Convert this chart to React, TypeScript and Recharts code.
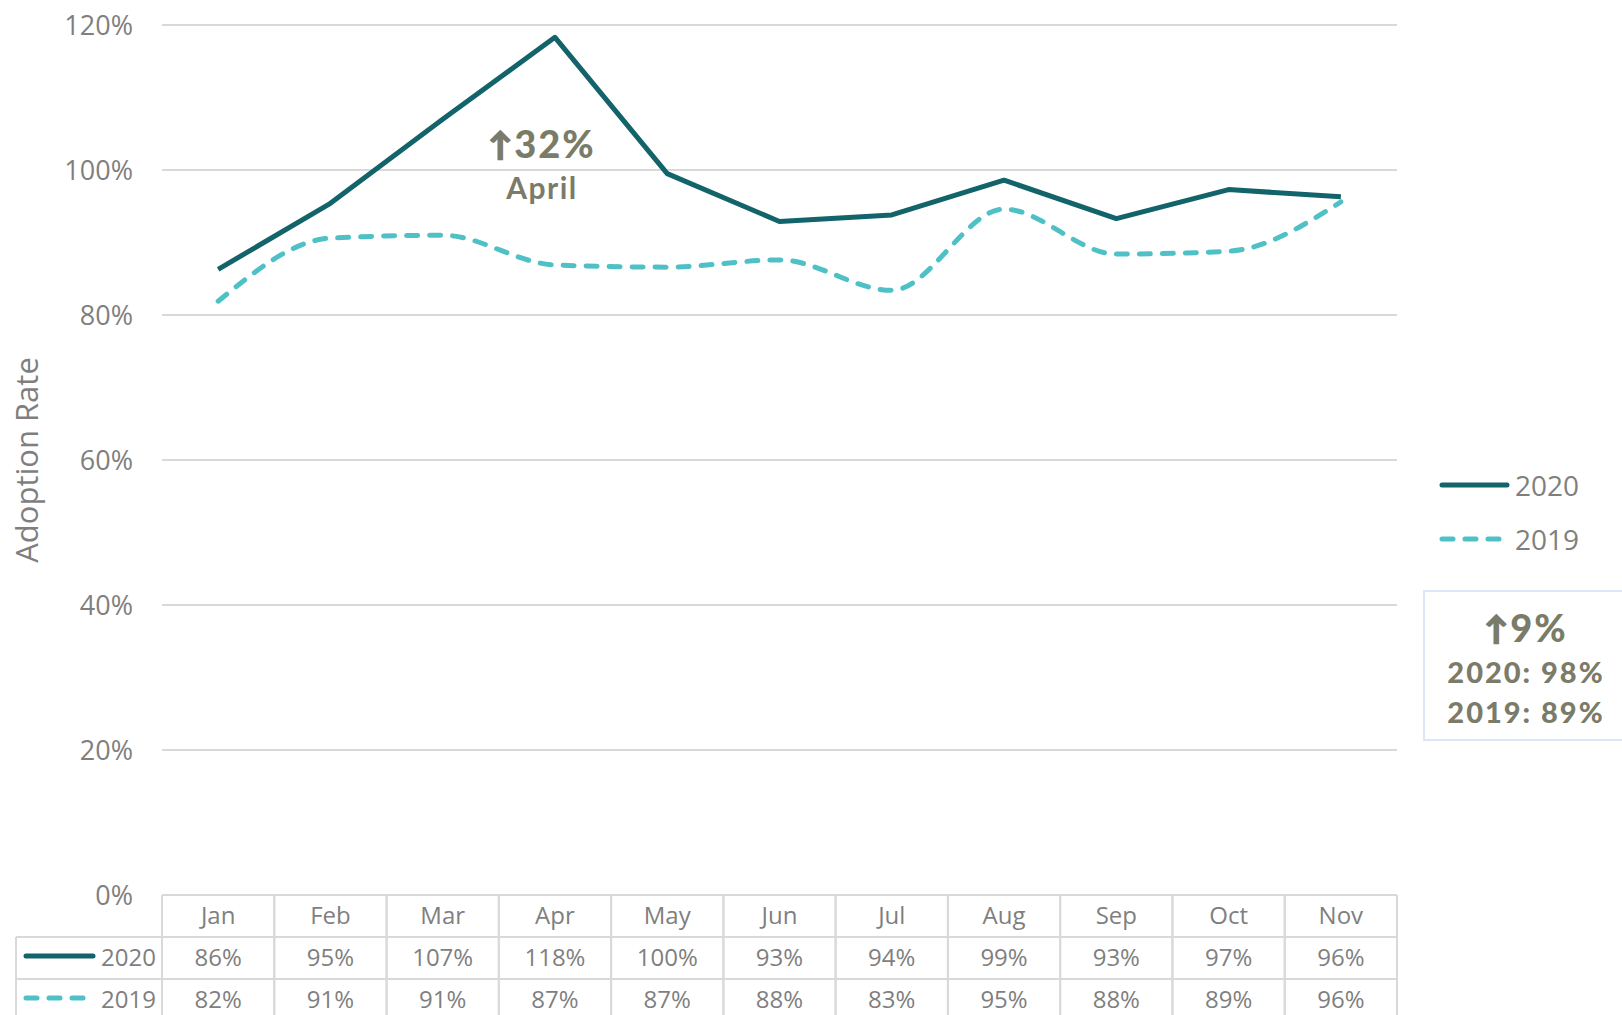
import React from 'react';
import { LineChart, Line, XAxis, YAxis, CartesianGrid, Customized } from 'recharts';

const months = ['Jan', 'Feb', 'Mar', 'Apr', 'May', 'Jun', 'Jul', 'Aug', 'Sep', 'Oct', 'Nov'];
const rate2020 = [86.3, 95.4, 107.0, 118.3, 99.5, 92.9, 93.8, 98.6, 93.3, 97.3, 96.3];
const rate2019 = [81.9, 90.6, 91.0, 86.9, 86.6, 87.6, 83.4, 94.6, 88.4, 88.8, 95.6];
const yTicks = [0, 20, 40, 60, 80, 100, 120];
const seriesNames = ['2020', '2019'];
const peakNote = ['32%', 'April'];
const upArrow = '\u2191';
const summaryNote = ['9%', '2020: 98%', '2019: 89%'];
const yTitle = 'Adoption Rate';

const data = months.map((m, i) => ({ month: m, y2020: rate2020[i], y2019: rate2019[i] }));

const W = 1622;
const H = 1015;
const M = { top: 25, right: 225, left: 0, bottom: 0 };
const Y_AXIS_W = 162;
const X_AXIS_H = 120;
const PLOT_W = W - M.right - Y_AXIS_W;

const C2020 = '#12636a';
const C2019 = '#4fc1c6';
const GRID = '#d9d9d9';
const TXT = '#7f7f7f';
const NOTE = '#7a7b69';
const FONT = '"Open Sans", "Noto Sans", sans-serif';
const NOTE_FONT = 'Lato, "Open Sans", sans-serif';
const ROW_H = 42;
const DASH = '11 12';

const TableTick = (props: any) => {
  const { x, y, payload, index } = props;
  const bw = (props.width && props.width > 500 ? props.width : PLOT_W) / months.length;
  const left = x - bw / 2;
  const right = x + bw / 2;
  const bottom = y + ROW_H * 3 + 20;
  const vals = [rate2020[index], rate2019[index]];
  const lineLeft = 16;
  return (
    <g>
      <line x1={left} x2={left} y1={y} y2={bottom} stroke={GRID} strokeWidth={2} />
      <line x1={right} x2={right} y1={y} y2={bottom} stroke={GRID} strokeWidth={2} />
      <line x1={left} x2={right} y1={y + ROW_H} y2={y + ROW_H} stroke={GRID} strokeWidth={2} />
      <line x1={left} x2={right} y1={y + ROW_H * 2} y2={y + ROW_H * 2} stroke={GRID} strokeWidth={2} />
      <text x={x} y={y + ROW_H / 2 - 2} textAnchor="middle" dominantBaseline="central" fill={TXT} fontSize={24} fontFamily={FONT}>
        {payload.value}
      </text>
      {vals.map((v, r) => (
        <text key={r} x={x} y={y + ROW_H * (r + 1) + ROW_H / 2 - 2} textAnchor="middle" dominantBaseline="central" fill={TXT} fontSize={24} fontFamily={FONT}>
          {Math.round(v)}%
        </text>
      ))}
      {index === 0 && (
        <g>
          <line x1={lineLeft} x2={left} y1={y + ROW_H} y2={y + ROW_H} stroke={GRID} strokeWidth={2} />
          <line x1={lineLeft} x2={left} y1={y + ROW_H * 2} y2={y + ROW_H * 2} stroke={GRID} strokeWidth={2} />
          <line x1={lineLeft} x2={lineLeft} y1={y + ROW_H} y2={bottom} stroke={GRID} strokeWidth={2} />
          {seriesNames.map((s, r) => {
            const cy = y + ROW_H * (r + 1) + ROW_H / 2 - 2;
            return (
              <g key={s}>
                <line x1={26} x2={93} y1={cy} y2={cy} stroke={r === 0 ? C2020 : C2019} strokeWidth={5} strokeLinecap="round" strokeDasharray={r === 0 ? undefined : DASH} />
                <text x={156} y={cy} textAnchor="end" dominantBaseline="central" fill={TXT} fontSize={24} fontFamily={FONT}>
                  {s}
                </text>
              </g>
            );
          })}
        </g>
      )}
    </g>
  );
};

const Overlay = () => (
  <g>
    <text x={26} y={460} transform="rotate(-90 26 460)" textAnchor="middle" dominantBaseline="central" fill={TXT} fontSize={31} fontFamily={FONT}>
      {yTitle}
    </text>
    <text x={542} y={143} textAnchor="middle" dominantBaseline="central" fill={NOTE} fontSize={38} fontWeight={900} letterSpacing={2} fontFamily={NOTE_FONT}>
      <tspan fontSize={32} stroke={NOTE} strokeWidth={1.5}>{upArrow}</tspan>
      {peakNote[0]}
    </text>
    <text x={542} y={187} textAnchor="middle" dominantBaseline="central" fill={NOTE} fontSize={30} fontWeight={700} letterSpacing={1.5} fontFamily={NOTE_FONT}>
      {peakNote[1]}
    </text>
    {seriesNames.map((s, r) => {
      const cy = 485 + r * 54;
      return (
        <g key={s}>
          <line x1={1442} x2={1507} y1={cy} y2={cy} stroke={r === 0 ? C2020 : C2019} strokeWidth={5} strokeLinecap="round" strokeDasharray={r === 0 ? undefined : DASH} />
          <text x={1515} y={cy} dominantBaseline="central" fill={TXT} fontSize={28} fontFamily={FONT}>
            {s}
          </text>
        </g>
      );
    })}
    <rect x={1424} y={591} width={220} height={149} fill="#ffffff" stroke="#dce7f5" strokeWidth={2} />
    <text x={1526} y={627} textAnchor="middle" dominantBaseline="central" fill={NOTE} fontSize={38} fontWeight={900} letterSpacing={2} fontFamily={NOTE_FONT}>
      <tspan fontSize={32} stroke={NOTE} strokeWidth={1.5}>{upArrow}</tspan>
      {summaryNote[0]}
    </text>
    <text x={1526} y={671} textAnchor="middle" dominantBaseline="central" fill={NOTE} fontSize={29} fontWeight={900} letterSpacing={2} fontFamily={NOTE_FONT}>
      {summaryNote[1]}
    </text>
    <text x={1526} y={711} textAnchor="middle" dominantBaseline="central" fill={NOTE} fontSize={29} fontWeight={900} letterSpacing={2} fontFamily={NOTE_FONT}>
      {summaryNote[2]}
    </text>
  </g>
);

export default function App() {
  return (
    <div style={{ position: 'absolute', left: 0, top: 0, width: W, height: H, background: '#ffffff', overflow: 'hidden' }}>
      <LineChart width={W} height={H} data={data} margin={M}>
        <CartesianGrid vertical={false} stroke={GRID} strokeWidth={2} />
        <XAxis
          dataKey="month"
          scale="band"
          interval={0}
          height={X_AXIS_H}
          axisLine={false}
          tickLine={false}
          tickSize={0}
          tickMargin={0}
          tick={<TableTick />}
        />
        <YAxis
          domain={[0, 120]}
          ticks={yTicks}
          width={Y_AXIS_W}
          axisLine={false}
          tickLine={false}
          tickSize={0}
          tickMargin={29}
          tickFormatter={(v: number) => `${v}%`}
          tick={{ fill: TXT, fontSize: 27, fontFamily: FONT }}
        />
        <Line type="monotone" dataKey="y2019" stroke={C2019} strokeWidth={5} strokeDasharray={DASH} strokeLinecap="round" dot={false} isAnimationActive={false} />
        <Line type="linear" dataKey="y2020" stroke={C2020} strokeWidth={5} strokeLinejoin="round" dot={false} isAnimationActive={false} />
        <Customized component={Overlay} />
      </LineChart>
    </div>
  );
}
